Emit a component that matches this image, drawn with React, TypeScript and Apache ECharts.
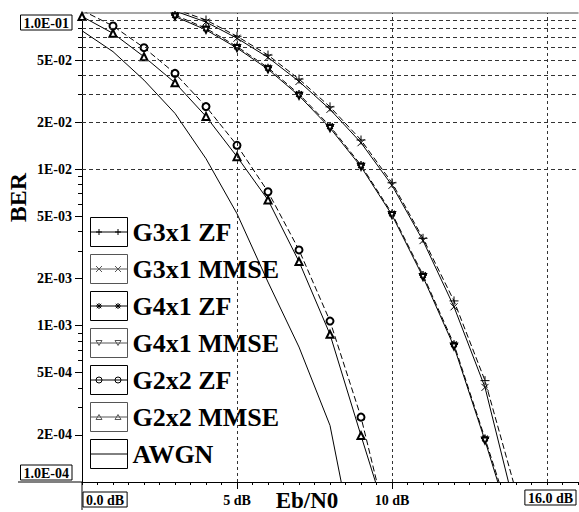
import React, { useEffect, useRef } from 'react';
import * as echarts from 'echarts';

// ---- data ----
const snrDb = [0, 1, 2, 3, 4, 5, 6, 7, 8, 9, 10, 11, 12, 13, 14];
const g3x1ZF = [null, null, null, 0.106, 0.0902, 0.071, 0.0538, 0.0378, 0.0251, 0.0154, 0.0082, 0.00362, 0.00144, 4.45e-4, 8.7e-5];
const g3x1MMSE = [null, null, null, 0.103, 0.0875, 0.069, 0.052, 0.0365, 0.0242, 0.0148, 0.0079, 0.0035, 0.00132, 4.03e-4, 6.4e-5];
const g4x1ZF = [null, null, null, 0.097, 0.0798, 0.061, 0.0447, 0.0303, 0.0189, 0.01064, 0.00522, 0.00211, 7.6e-4, 1.9e-4, 4.6e-5];
const g4x1MMSE = [null, null, null, 0.095, 0.078, 0.0597, 0.0437, 0.0296, 0.0184, 0.0104, 0.0051, 0.00205, 7.35e-4, 1.84e-4, 4.2e-5];
const g2x2ZF = [0.104, 0.0826, 0.06, 0.0411, 0.0252, 0.01425, 0.00719, 0.00305, 0.00107, 2.6e-4, 4.0e-5, null, null, null, null];
const g2x2MMSE = [0.095, 0.0741, 0.0525, 0.0358, 0.0218, 0.01205, 0.00637, 0.00257, 8.8e-4, 1.98e-4, 4.6e-5, null, null, null, null];
const awgn = [0.077, 0.0566, 0.0372, 0.0228, 0.0117, 0.0052, 0.0019, 7.3e-4, 2.3e-4, 2.3e-5, null, null, null, null, null];

const seriesNames = ['G3x1 ZF', 'G3x1 MMSE', 'G4x1 ZF', 'G4x1 MMSE', 'G2x2 ZF', 'G2x2 MMSE', 'AWGN'];

// tick labels
const yLabelValues = [5e-2, 2e-2, 1e-2, 5e-3, 2e-3, 1e-3, 5e-4, 2e-4];
const yTickLabels = ['5E-02', '2E-02', '1E-02', '5E-03', '2E-03', '1E-03', '5E-04', '2E-04'];
const yEndLabels = ['1.0E-01', '1.0E-04'];
const yGridValues = [
  0.09, 0.08, 0.07, 0.06, 0.05, 0.04, 0.03, 0.02, 0.01,
  0.009, 0.008, 0.007, 0.006, 0.005, 0.004, 0.003, 0.002, 0.001,
  0.0009, 0.0008, 0.0007, 0.0006, 0.0005, 0.0004, 0.0003, 0.0002,
];
const xTickValues = [5, 10];
const xTickLabels = ['5 dB', '10 dB'];
const xEndLabels = ['0.0 dB', '16.0 dB'];
const xGridValues = [5, 10, 15];

const FONT = '"Liberation Serif", "Times New Roman", serif';

const toPairs = (ys: (number | null)[]) =>
  snrDb.map((x, i) => [x, ys[i]]).filter((p) => p[1] != null);

// symbol paths
const PLUS = 'path://M0,5L10,5M5,0L5,10';
const CROSS = 'path://M0,0L10,10M10,0L0,10';
const STAR = 'path://M0,5L10,5M5,0L5,10M1.5,1.5L8.5,8.5M8.5,1.5L1.5,8.5';

// legend icon paths (box 37x29, line through middle, two markers)
const BOX = 'M0,0L37,0L37,29L0,29Z M0,14.5L37,14.5';
const mk = (f: (cx: number) => string) => f(8.5) + f(27.5);
const legendIcons = [
  'path://' + BOX + mk((c) => `M${c - 3},14.5L${c + 3},14.5M${c},11.5L${c},17.5`),
  'path://' + BOX + mk((c) => `M${c - 3},11.5L${c + 3},17.5M${c + 3},11.5L${c - 3},17.5`),
  'path://' + BOX + mk((c) => `M${c - 3},14.5L${c + 3},14.5M${c},11.5L${c},17.5M${c - 2.2},12.3L${c + 2.2},16.7M${c + 2.2},12.3L${c - 2.2},16.7`),
  'path://' + BOX + mk((c) => `M${c - 3},12L${c + 3},12L${c},17Z`),
  'path://' + BOX + mk((c) => `M${c + 3},14.5A3,3,0,1,1,${c - 3},14.5A3,3,0,1,1,${c + 3},14.5Z`),
  'path://' + BOX + mk((c) => `M${c - 3},17L${c + 3},17L${c},12Z`),
  'path://' + BOX,
];
const legendBorders = ['#000', '#555', '#000', '#555', '#000', '#555', '#000'];

export default function App() {
  const ref = useRef<HTMLDivElement>(null);

  useEffect(() => {
    if (!ref.current) return;
    const chart = echarts.init(ref.current, undefined, { renderer: 'svg' });

    const base = (name: string, data: any[], symbol: string, dashed: boolean, extra: any = {}) => ({
      name,
      type: 'line',
      xAxisIndex: 0,
      yAxisIndex: 0,
      data,
      symbol,
      symbolSize: 8,
      showSymbol: symbol !== 'none',
      showAllSymbol: true,
      clip: true,
      silent: true,
      lineStyle: { color: '#000', width: 1, type: dashed ? [6, 3] : 'solid' },
      itemStyle: { color: '#000', borderColor: '#000', borderWidth: 1 },
      emphasis: { disabled: true },
      ...extra,
    });

    const option: any = {
      animation: false,
      backgroundColor: '#fff',
      textStyle: { fontFamily: FONT },
      grid: { left: 82, top: 13, right: 1, bottom: 30, containLabel: false, outerBoundsMode: 'none' },
      legend: {
        orient: 'vertical',
        left: 90,
        top: 217,
        padding: 0,
        itemWidth: 37,
        itemHeight: 29,
        itemGap: 7,
        selectedMode: false,
        textStyle: { fontSize: 26, fontWeight: 'bold', fontFamily: FONT, color: '#000' },
        itemStyle: { color: '#fff', borderColor: '#000', borderWidth: 1 },
        data: seriesNames.map((n, i) => ({
          name: n,
          icon: legendIcons[i],
          itemStyle: { color: '#fff', borderColor: legendBorders[i], borderWidth: 1 },
        })),
      },
      xAxis: [
        {
          type: 'value',
          min: 0,
          max: 16,
          position: 'bottom',
          name: 'Eb/N0',
          nameLocation: 'middle',
          nameGap: 7,
          nameMoveOverlap: false,
          nameTextStyle: { fontSize: 23, fontWeight: 'bold', fontFamily: FONT, color: '#000', padding: [0, 46, 0, 0] },
          axisLine: { show: true, onZero: false, lineStyle: { color: '#000', width: 1 } },
          axisTick: { show: true, customValues: xTickValues, length: 7, lineStyle: { color: '#000' } },
          axisLabel: {
            show: true,
            customValues: xTickValues,
            margin: 11,
            fontSize: 14,
            fontWeight: 'bold',
            fontFamily: FONT,
            color: '#000',
            formatter: (v: number) => {
              const i = xTickValues.indexOf(v);
              return i >= 0 ? xTickLabels[i] : '';
            },
          },
          splitLine: { show: false },
        },
        {
          type: 'value',
          min: 0,
          max: 16,
          interval: 0.5,
          position: 'bottom',
          axisLine: { show: false, onZero: false },
          axisTick: { show: true, length: 3, lineStyle: { color: '#000' } },
          axisLabel: { show: false },
          splitLine: { show: false },
        },
        {
          type: 'value',
          min: 0,
          max: 16,
          position: 'top',
          axisLine: { show: true, onZero: false, lineStyle: { color: '#888', width: 1.5 } },
          axisTick: { show: false },
          axisLabel: { show: false },
          splitLine: { show: false },
        },
      ],
      yAxis: [
        {
          type: 'log',
          logBase: 10,
          min: 1e-4,
          max: 0.1,
          position: 'left',
          name: 'BER',
          nameLocation: 'middle',
          nameGap: 52,
          nameMoveOverlap: false,
          nameTextStyle: { fontSize: 24, fontWeight: 'bold', fontFamily: FONT, color: '#000', padding: [0, 0, 0, 100] },
          axisLine: { show: true, onZero: false, lineStyle: { color: '#000', width: 1 } },
          axisTick: { show: false },
          axisLabel: { show: false },
          splitLine: { show: false },
          minorTick: { show: false },
        },
        {
          type: 'value',
          min: -4,
          max: -1,
          position: 'left',
          axisLine: { show: false, onZero: false },
          axisTick: { show: true, customValues: yGridValues.map((v) => Math.log10(v)), length: 4, lineStyle: { color: '#000' } },
          axisLabel: { show: false },
          splitLine: { show: false },
        },
        {
          type: 'value',
          min: -4,
          max: -1,
          position: 'left',
          axisLine: { show: false, onZero: false },
          axisTick: { show: true, customValues: yLabelValues.map((v) => Math.log10(v)), length: 7, lineStyle: { color: '#000' } },
          axisLabel: {
            show: true,
            customValues: yLabelValues.map((v) => Math.log10(v)),
            margin: 10,
            fontSize: 14,
            fontWeight: 'bold',
            fontFamily: FONT,
            color: '#000',
            formatter: (v: number) => {
              const i = yLabelValues.findIndex((y) => Math.abs(Math.log10(y) - v) < 1e-6);
              return i >= 0 ? yTickLabels[i] : '';
            },
          },
          splitLine: { show: false },
        },
      ],
      series: [
        base(seriesNames[0], toPairs(g3x1ZF), PLUS, true, { symbolSize: 9 }),
        base(seriesNames[1], toPairs(g3x1MMSE), CROSS, false, { symbolSize: 7 }),
        base(seriesNames[2], toPairs(g4x1ZF), STAR, true, { symbolSize: 8, itemStyle: { color: '#000', borderColor: '#000', borderWidth: 1.4 } }),
        base(seriesNames[3], toPairs(g4x1MMSE), 'emptyTriangle', false, { symbolRotate: 180, symbolSize: 6 }),
        base(seriesNames[4], toPairs(g2x2ZF), 'emptyCircle', true, { symbolSize: 7 }),
        base(seriesNames[5], toPairs(g2x2MMSE), 'emptyTriangle', false, { symbolSize: 7 }),
        base(seriesNames[6], toPairs(awgn), 'none', false, {
          z: 2,
          markLine: {
            silent: true,
            animation: false,
            symbol: ['none', 'none'],
            label: { show: false },
            emphasis: { disabled: true },
            lineStyle: { color: '#333', width: 1, type: [4, 3] },
            data: [
              ...yGridValues.map((v) => ({ yAxis: v })),
              ...xGridValues.map((v) => ({ xAxis: v, lineStyle: { color: '#333', width: 1, type: [3, 3] } })),
            ],
          },
        }),
      ],
    };

    chart.setOption(option);

    const [x0, yTop] = chart.convertToPixel({ gridIndex: 0 }, [0, 0.1]) as number[];
    const [x16, yBot] = chart.convertToPixel({ gridIndex: 0 }, [16, 1e-4]) as number[];
    const boxStyle = {
      fontSize: 14,
      fontWeight: 'bold',
      fontFamily: FONT,
      fill: '#000',
      borderColor: '#000',
      borderWidth: 1,
      padding: [1, 3, 0, 3],
    };
    chart.setOption({
      graphic: [
        { type: 'line', silent: true, shape: { x1: 18, y1: yBot, x2: x0, y2: yBot }, style: { stroke: '#000', lineWidth: 1 } },
        { type: 'line', silent: true, shape: { x1: x0, y1: yBot, x2: x0, y2: yBot + 28 }, style: { stroke: '#000', lineWidth: 1 } },
        {
          type: 'text', silent: true, x: x0 - 10, y: yTop + 2,
          style: { ...boxStyle, text: yEndLabels[0], align: 'right', verticalAlign: 'top', textAlign: 'right', textVerticalAlign: 'top' },
        },
        {
          type: 'text', silent: true, x: x0 - 10, y: yBot - 2,
          style: { ...boxStyle, text: yEndLabels[1], align: 'right', verticalAlign: 'bottom', textAlign: 'right', textVerticalAlign: 'bottom' },
        },
        {
          type: 'text', silent: true, x: x0 + 1, y: yBot + 10,
          style: { ...boxStyle, text: xEndLabels[0], align: 'left', verticalAlign: 'top', textAlign: 'left', textVerticalAlign: 'top' },
        },
        {
          type: 'text', silent: true, x: x16 - 2, y: yBot + 8,
          style: { ...boxStyle, text: xEndLabels[1], align: 'right', verticalAlign: 'top', textAlign: 'right', textVerticalAlign: 'top' },
        },
      ],
    });

    return () => chart.dispose();
  }, []);

  return (
    <div
      ref={ref}
      style={{ position: 'fixed', left: 0, top: 0, width: 579, height: 512, background: '#fff' }}
    />
  );
}
